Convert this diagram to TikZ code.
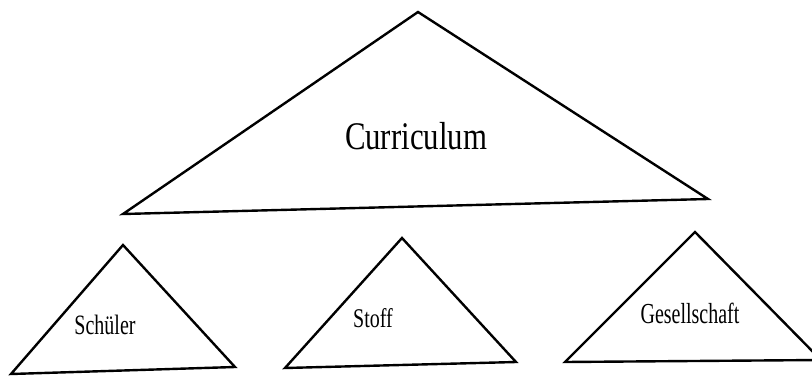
\documentclass[tikz,border=0pt]{standalone}
\usepackage{fontspec}
\setmainfont{Liberation Serif}
\tikzset{
  tri/.style={draw=black, line width=2.4pt, line join=miter},
  biglabel/.style={anchor=base, inner sep=0pt, font=\fontsize{30.8}{36}\selectfont},
  smalllabel/.style={anchor=base, inner sep=0pt, font=\fontsize{20}{24}\selectfont}
}
\begin{document}
\begin{tikzpicture}[x=1pt,y=-1pt]
\useasboundingbox (0,0) rectangle (812,378);
\clip (0,0) rectangle (812,378);
% Curriculum
\coordinate (cA) at (418,12);
\coordinate (cL) at (123,214);
\coordinate (cR) at (708,199);
\draw[tri] (cA) -- (cL) -- (cR) -- cycle;
\node[biglabel] (curr) at (416,149) {\scalebox{1}[1.27]{Curriculum}};
% Schueler
\coordinate (sA) at (123,245);
\coordinate (sL) at (11,374);
\coordinate (sR) at (235,367);
\draw[tri] (sA) -- (sL) -- (sR) -- cycle;
\node[smalllabel] (schueler) at (105,334) {\scalebox{1}[1.4]{Schüler}};
% Stoff
\coordinate (tA) at (402,238);
\coordinate (tL) at (285,368);
\coordinate (tR) at (516,362);
\draw[tri] (tA) -- (tL) -- (tR) -- cycle;
\node[smalllabel] (stoff) at (373,327) {\scalebox{1}[1.35]{Stoff}};
% Gesellschaft
\coordinate (gA) at (695,232);
\coordinate (gL) at (565,362);
\coordinate (gR) at (821,360);
\draw[tri] (gA) -- (gL) -- (gR) -- cycle;
\node[smalllabel] (gesellschaft) at (690,323) {\scalebox{1}[1.45]{Gesellschaft}};
\end{tikzpicture}
\end{document}
